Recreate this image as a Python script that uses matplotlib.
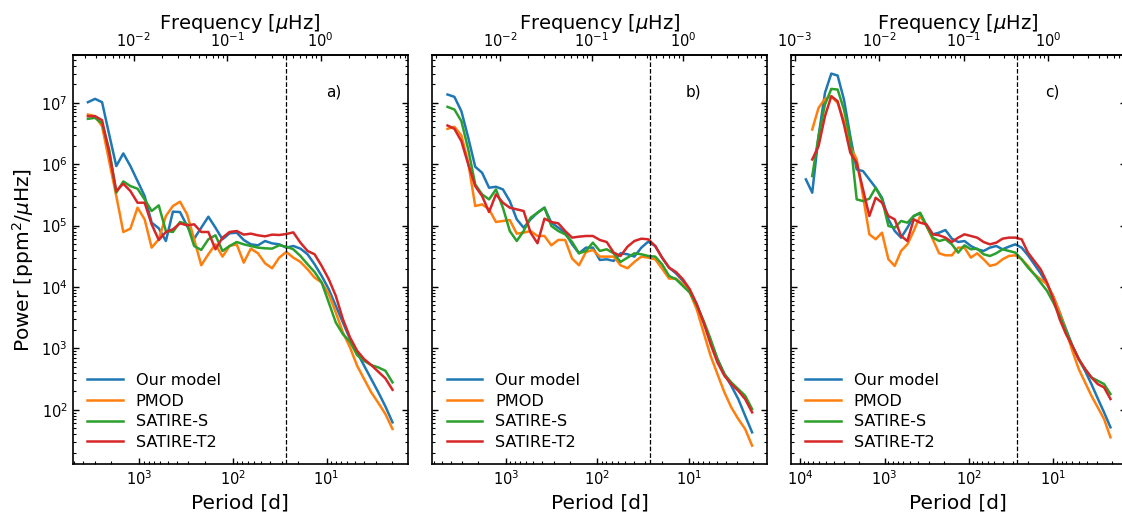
import numpy as np
import matplotlib
matplotlib.use('Agg')
import matplotlib.pyplot as plt

plt.rcParams['font.family'] = ['DejaVu Sans']
plt.rcParams['axes.linewidth'] = 1.2
plt.rcParams['mathtext.fontset'] = 'dejavusans'

series_names = ['Our model', 'PMOD', 'SATIRE-S', 'SATIRE-T2']
series_colors = ['#1f77b4', '#ff7f0e', '#2ca02c', '#d62728']
panel_labels = ['a)', 'b)', 'c)']
rotation_period = 27.0  # days (dashed line)

# ---------------- panel a (log10 period [d], log10 power) ----------------
log_period_a = [3.551, 3.475, 3.400, 3.324, 3.248, 3.173, 3.097, 3.021, 2.945, 2.870,
                2.794, 2.718, 2.643, 2.567, 2.491, 2.416, 2.340, 2.264, 2.188, 2.113,
                2.037, 1.961, 1.886, 1.810, 1.734, 1.658, 1.583, 1.507, 1.431, 1.356,
                1.280, 1.204, 1.129, 1.053, 0.977, 0.902, 0.826, 0.750, 0.674, 0.599,
                0.523, 0.447, 0.372, 0.296]
model_a = [7.011, 7.065, 7.011, 6.485, 5.970, 6.176, 5.970, 5.726, 5.482, 5.048,
           4.956, 4.749, 5.227, 5.221, 4.994, 4.787, 4.966, 5.145, 4.966, 4.777,
           4.874, 4.885, 4.766, 4.695, 4.679, 4.749, 4.711, 4.695, 4.641, 4.668,
           4.625, 4.533, 4.370, 4.180, 3.963, 3.692, 3.421, 3.150, 2.933, 2.716,
           2.499, 2.282, 2.054, 1.794]
pmod_a = [6.810, 6.783, 6.620, 6.051, 5.482, 4.896, 4.950, 5.292, 5.102, 4.641,
          4.777, 5.156, 5.319, 5.389, 5.183, 4.777, 4.354, 4.533, 4.695, 4.495,
          4.668, 4.695, 4.397, 4.625, 4.549, 4.386, 4.305, 4.478, 4.570, 4.478,
          4.408, 4.289, 4.153, 4.072, 3.882, 3.584, 3.258, 3.014, 2.716, 2.499,
          2.282, 2.109, 1.930, 1.686]
satire_s_a = [6.740, 6.756, 6.664, 6.241, 5.536, 5.720, 5.644, 5.601, 5.427, 5.238,
              5.330, 4.912, 4.896, 5.059, 5.021, 4.668, 4.603, 4.777, 4.842, 4.587,
              4.668, 4.733, 4.695, 4.668, 4.641, 4.630, 4.625, 4.679, 4.657, 4.614,
              4.505, 4.370, 4.245, 4.072, 3.746, 3.421, 3.231, 3.106, 2.889, 2.797,
              2.727, 2.689, 2.635, 2.445]
satire_t2_a = [6.783, 6.783, 6.718, 6.187, 5.563, 5.683, 5.563, 5.373, 5.373, 5.021,
               4.766, 4.896, 4.939, 5.037, 5.004, 5.021, 4.896, 4.896, 4.614, 4.804,
               4.896, 4.912, 4.853, 4.869, 4.842, 4.825, 4.853, 4.847, 4.863, 4.890,
               4.722, 4.587, 4.533, 4.343, 4.126, 3.855, 3.475, 3.177, 2.960, 2.824,
               2.727, 2.618, 2.510, 2.325]

# ---------------- panel b ----------------
log_period_b = [3.635, 3.560, 3.484, 3.409, 3.333, 3.258, 3.182, 3.107, 3.031, 2.956,
                2.880, 2.805, 2.729, 2.654, 2.578, 2.503, 2.427, 2.352, 2.276, 2.201,
                2.125, 2.050, 1.974, 1.899, 1.823, 1.748, 1.672, 1.597, 1.521, 1.446,
                1.370, 1.295, 1.219, 1.144, 1.068, 0.993, 0.917, 0.842, 0.766, 0.691,
                0.615, 0.540, 0.464, 0.389, 0.313]
model_b = [7.136, 7.098, 6.864, 6.431, 5.959, 5.861, 5.617, 5.633, 5.590, 5.400,
           5.102, 4.966, 5.102, 5.210, 5.292, 5.048, 4.966, 4.885, 4.695, 4.549,
           4.641, 4.641, 4.440, 4.451, 4.424, 4.549, 4.533, 4.495, 4.641, 4.739,
           4.668, 4.478, 4.316, 4.223, 4.099, 3.936, 3.719, 3.421, 3.123, 2.824,
           2.580, 2.390, 2.174, 1.902, 1.631]
pmod_b = [6.577, 6.610, 6.469, 6.024, 5.319, 5.346, 5.265, 5.059, 5.075, 5.091,
          4.869, 4.885, 4.912, 4.831, 4.831, 4.679, 4.766, 4.766, 4.462, 4.354,
          4.570, 4.603, 4.495, 4.495, 4.495, 4.354, 4.305, 4.408, 4.495, 4.478,
          4.451, 4.300, 4.137, 4.137, 4.044, 3.909, 3.638, 3.258, 2.879, 2.580,
          2.282, 2.038, 1.848, 1.686, 1.414]
satire_s_b = [6.935, 6.892, 6.702, 6.241, 5.671, 5.509, 5.427, 5.590, 5.292, 4.912,
              4.749, 4.912, 5.129, 5.210, 5.292, 4.994, 4.912, 4.858, 4.733, 4.549,
              4.587, 4.722, 4.587, 4.614, 4.549, 4.408, 4.478, 4.549, 4.533, 4.505,
              4.495, 4.370, 4.180, 4.126, 4.017, 3.909, 3.703, 3.448, 3.150, 2.824,
              2.580, 2.445, 2.336, 2.228, 2.011]
satire_t2_b = [6.631, 6.577, 6.376, 5.997, 5.644, 5.482, 5.221, 5.509, 5.373, 5.292,
               5.265, 5.238, 4.885, 4.712, 5.113, 5.059, 5.037, 4.912, 4.804, 4.820,
               4.831, 4.831, 4.766, 4.733, 4.560, 4.505, 4.657, 4.749, 4.787, 4.777,
               4.668, 4.478, 4.316, 4.245, 4.126, 3.963, 3.719, 3.421, 3.068, 2.770,
               2.553, 2.418, 2.309, 2.174, 1.957]

# ---------------- panel c ----------------
log_period_c = [3.933, 3.858, 3.783, 3.707, 3.632, 3.557, 3.482, 3.407, 3.331, 3.256,
                3.181, 3.106, 3.031, 2.955, 2.880, 2.805, 2.730, 2.655, 2.579, 2.504,
                2.429, 2.354, 2.279, 2.203, 2.128, 2.053, 1.978, 1.903, 1.827, 1.752,
                1.677, 1.602, 1.527, 1.451, 1.376, 1.301, 1.226, 1.151, 1.075, 1.000,
                0.925, 0.850, 0.775, 0.699, 0.624, 0.549, 0.474, 0.399, 0.323]
model_c = [5.753, 5.536, 6.458, 7.163, 7.477, 7.445, 7.054, 6.458, 5.915, 5.888,
           5.753, 5.617, 5.454, 5.102, 4.912, 4.804, 4.966, 5.156, 5.200, 5.004,
           4.858, 4.885, 4.928, 4.787, 4.733, 4.749, 4.668, 4.614, 4.587, 4.641,
           4.668, 4.614, 4.657, 4.695, 4.641, 4.516, 4.370, 4.223, 4.044, 3.844,
           3.584, 3.312, 3.041, 2.824, 2.634, 2.418, 2.184, 1.957, 1.713]
# the three comparison series start at the second period bin
pmod_c = [6.566, 6.919, 7.065, 7.108, 7.000, 6.702, 6.295, 6.078, 5.482, 4.858,
          4.777, 4.885, 4.451, 4.343, 4.587, 4.695, 4.912, 5.156, 4.994, 4.777,
          4.549, 4.516, 4.516, 4.641, 4.641, 4.478, 4.549, 4.451, 4.343, 4.370,
          4.451, 4.505, 4.516, 4.451, 4.343, 4.207, 4.126, 4.044, 3.844, 3.584,
          3.285, 2.960, 2.662, 2.445, 2.228, 2.038, 1.848, 1.550]
satire_s_c = [5.807, 6.458, 6.973, 7.228, 7.217, 6.892, 6.403, 5.427, 5.400, 5.438,
              5.617, 5.427, 4.994, 4.966, 5.075, 5.048, 5.156, 5.210, 4.994, 4.804,
              4.749, 4.777, 4.695, 4.560, 4.679, 4.614, 4.625, 4.533, 4.505, 4.549,
              4.614, 4.587, 4.560, 4.451, 4.316, 4.207, 4.072, 3.936, 3.746, 3.529,
              3.285, 3.041, 2.824, 2.662, 2.526, 2.472, 2.418, 2.255]
satire_t2_c = [6.078, 6.295, 6.783, 7.108, 7.027, 6.648, 6.187, 6.024, 5.590, 5.156,
               5.454, 5.373, 5.156, 5.102, 4.831, 4.749, 5.102, 5.048, 5.021, 4.858,
               4.842, 4.804, 4.733, 4.804, 4.858, 4.831, 4.804, 4.733, 4.695, 4.722,
               4.787, 4.804, 4.804, 4.777, 4.560, 4.424, 4.289, 4.072, 3.800, 3.475,
               3.231, 3.041, 2.824, 2.662, 2.526, 2.418, 2.363, 2.174]

panels = [
    [(log_period_a, model_a), (log_period_a, pmod_a), (log_period_a, satire_s_a), (log_period_a, satire_t2_a)],
    [(log_period_b, model_b), (log_period_b, pmod_b), (log_period_b, satire_s_b), (log_period_b, satire_t2_b)],
    [(log_period_c, model_c), (log_period_c[1:], pmod_c), (log_period_c[1:], satire_s_c), (log_period_c[1:], satire_t2_c)],
]


def period_to_freq(p):
    p = np.asarray(p, dtype=float)
    with np.errstate(divide='ignore', invalid='ignore'):
        return 1e6 / (86400.0 * p)


fig = plt.figure(figsize=(11.22, 5.12), dpi=100)
lefts = [0.0648, 0.3853, 0.7047]
axes = []
for i, left in enumerate(lefts):
    ax = fig.add_axes([left, 0.0932, 0.2986, 0.7994], sharey=axes[0] if axes else None)
    axes.append(ax)

for i, (ax, panel) in enumerate(zip(axes, panels)):
    ax.set_xscale('log')
    ax.set_yscale('log')
    for (lp, lv), name, col in zip(panel, series_names, series_colors):
        ax.plot(10 ** np.asarray(lp), 10 ** np.asarray(lv), color=col, lw=1.8, label=name)
    ax.invert_xaxis()
    ax.axvline(rotation_period, color='k', ls='--', lw=0.9)
    ax.tick_params(which='both', direction='in', top=False, right=True)
    ax.tick_params(which='major', length=4, width=1.0, labelsize=10.5)
    ax.tick_params(which='minor', length=2, width=0.8)
    if i > 0:
        ax.tick_params(labelleft=False)
    ax.set_xlabel('Period [d]', fontsize=14.5)
    sec = ax.secondary_xaxis('top', functions=(period_to_freq, period_to_freq))
    sec.tick_params(which='both', direction='in')
    sec.tick_params(which='major', length=4, width=1.0, labelsize=10.5)
    sec.tick_params(which='minor', length=2, width=0.8)
    sec.set_xlabel('Frequency [$\\mu$Hz]', fontsize=14, labelpad=2)
    ax.text(0.78, 0.91, panel_labels[i], transform=ax.transAxes,
            ha='center', va='center', fontsize=11)
    ax.legend(loc='lower left', frameon=False, fontsize=11.6,
              labelspacing=0.35, handlelength=2.2)

axes[0].set_ylabel('Power [ppm$^2$/$\\mu$Hz]', fontsize=14.5)

fig.savefig('out.png', dpi=100)
